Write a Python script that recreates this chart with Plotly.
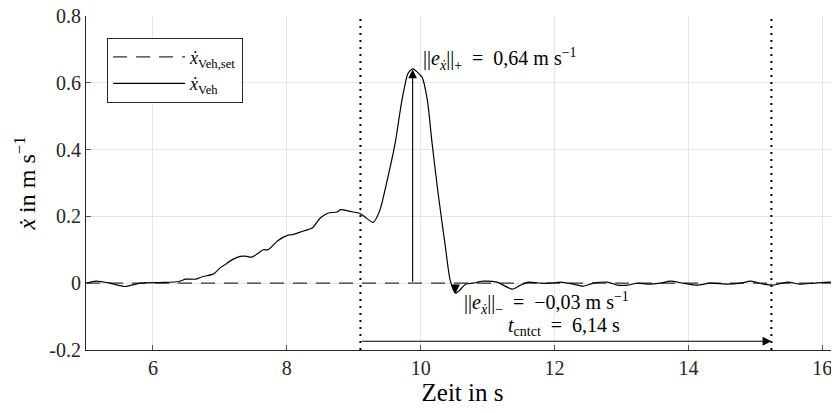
import plotly.graph_objects as go

# ---- data ----
time_s = [5.00, 5.15, 5.36, 5.58, 5.81, 6.11, 6.39, 6.49, 6.64, 6.75, 6.90, 7.00, 7.09, 7.15,
          7.30, 7.38, 7.48, 7.65, 7.72, 7.87, 8.02, 8.08, 8.20, 8.38, 8.50, 8.62, 8.75, 8.80,
          8.95, 9.10, 9.17, 9.29, 9.39, 9.51, 9.62, 9.72, 9.81, 9.88, 10.02, 10.10, 10.17,
          10.26, 10.37, 10.44, 10.52, 10.59, 10.67, 10.78, 10.93, 11.14, 11.37, 11.49, 11.61,
          11.79, 11.94, 12.09, 12.28, 12.43, 12.58, 12.79, 12.94, 13.09, 13.24, 13.39, 13.58,
          13.73, 13.92, 14.13, 14.33, 14.58, 14.78, 14.93, 15.12, 15.27, 15.48, 15.67, 15.87,
          16.12, 16.26]
v_veh = [0.000, 0.006, 0.000, -0.010, 0.000, 0.002, 0.005, 0.012, 0.012, 0.020, 0.027, 0.045,
         0.057, 0.066, 0.080, 0.081, 0.078, 0.100, 0.100, 0.128, 0.144, 0.145, 0.153, 0.165,
         0.195, 0.210, 0.213, 0.220, 0.215, 0.208, 0.198, 0.182, 0.218, 0.317, 0.420, 0.548,
         0.628, 0.642, 0.617, 0.548, 0.420, 0.270, 0.108, 0.009, -0.030, -0.020, -0.003, 0.000,
         0.006, 0.003, -0.018, -0.006, 0.003, 0.000, 0.000, 0.003, -0.003, -0.009, 0.000, 0.003,
         -0.006, -0.006, 0.000, -0.003, 0.000, 0.006, 0.000, -0.006, 0.000, -0.003, 0.000, 0.006,
         -0.003, -0.006, 0.003, -0.003, 0.000, 0.003, -0.003]
set_time = [5.0, 16.26]
v_set = [0.0, 0.0]

t_start = 9.10
t_end = 15.24
peak_t, peak_v = 9.88, 0.64
neg_t, neg_v = 10.52, -0.03

x_ticks = [6, 8, 10, 12, 14, 16]
y_ticks = [0.8, 0.6, 0.4, 0.2, 0, -0.2]
y_tick_text = ["0.8", "0.6", "0.4", "0.2", "0", "-0.2"]

FONT = "'Liberation Serif', 'Times New Roman', serif"
XD = "<i>x\u0307</i>"
NB = "||"

fig = go.Figure()
fig.add_trace(go.Scatter(x=set_time, y=v_set, mode="lines", name=XD + "<sub>Veh,set</sub>",
                         line=dict(color="#333333", width=1.3, dash="14px,9px")))
fig.add_trace(go.Scatter(x=time_s, y=v_veh, mode="lines", name=XD + "<sub>Veh</sub>",
                         line=dict(color="black", width=1.2, shape="spline", smoothing=0.6)))

# dotted vertical lines
for t in (t_start, t_end):
    fig.add_shape(type="line", x0=t, x1=t, y0=-0.2, y1=0.8, xref="x", yref="y",
                  line=dict(color="black", width=2, dash="2px,5px"))

arrow = dict(xref="x", yref="y", axref="x", ayref="y", showarrow=True, arrowhead=2,
             arrowsize=1.6, arrowwidth=1.1, arrowcolor="black", text="", standoff=0)
fig.add_annotation(x=peak_t, y=peak_v, ax=peak_t, ay=0, **arrow)
fig.add_annotation(x=neg_t, y=neg_v, ax=neg_t, ay=0, **arrow)
fig.add_annotation(x=t_end, y=-0.174, ax=t_start, ay=-0.174, **arrow)

tf = dict(family=FONT, size=20, color="black")
fig.add_annotation(x=10.0, y=0.672, xref="x", yref="y", showarrow=False, xanchor="left",
                   text=NB + "<i>e</i><sub><i>x\u0307</i></sub>" + NB + "<sub>+</sub>  =  0,64 m s<sup>−1</sup>",
                   font=tf)
fig.add_annotation(x=10.62, y=-0.060, xref="x", yref="y", showarrow=False, xanchor="left",
                   text=NB + "<i>e</i><sub><i>x\u0307</i></sub>" + NB + "<sub>−</sub>  =  −0,03 m s<sup>−1</sup>",
                   font=tf)
fig.add_annotation(x=11.27, y=-0.131, xref="x", yref="y", showarrow=False, xanchor="left",
                   text="<i>t</i><sub>cntct</sub>  =  6,14 s", font=tf)

axis_common = dict(showgrid=True, gridcolor="#e5e5e5", gridwidth=1, zeroline=False,
                   showline=True, linecolor="#262626", linewidth=1, ticks="inside", ticklen=5,
                   tickcolor="#555555", automargin=False, ticklabeloverflow="allow",
                   tickfont=dict(family=FONT, size=20, color="#262626"))

# the page body adds 8 px on the left and top
fig.update_layout(
    width=831, height=405,
    margin=dict(l=78, r=0, t=8, b=63, autoexpand=False),
    plot_bgcolor="white", paper_bgcolor="white",
    font=dict(family=FONT, color="black"),
    xaxis=dict(range=[5.0, 16.25], tickvals=x_ticks,
               title=dict(text="Zeit in s", font=dict(family=FONT, size=25), standoff=4), **axis_common),
    yaxis=dict(range=[-0.2002, 0.8002], tickvals=y_ticks, ticktext=y_tick_text,
               title=dict(text=XD + " in m s<sup>−1</sup>", font=dict(family=FONT, size=24), standoff=6),
               **axis_common),
    legend=dict(x=0.028, y=0.935, xanchor="left", yanchor="top", bgcolor="white",
                bordercolor="#262626", borderwidth=1, font=dict(family=FONT, size=18),
                tracegroupgap=0, itemwidth=72),
    showlegend=True,
)

fig.write_html("out.html")
